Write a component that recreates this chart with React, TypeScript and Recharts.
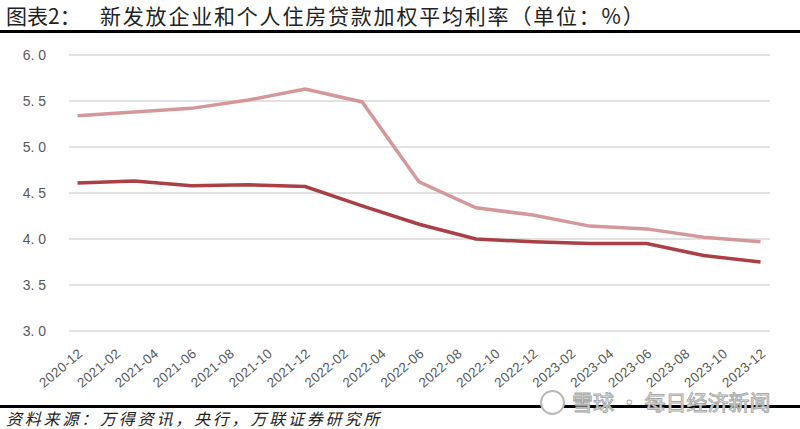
import { LineChart, Line, XAxis, YAxis, CartesianGrid } from "recharts";

// quarterly observations
const quarters = [
  "2020-12", "2021-03", "2021-06", "2021-09", "2021-12", "2022-03", "2022-06",
  "2022-09", "2022-12", "2023-03", "2023-06", "2023-09", "2023-12",
];
const housingRate = [5.34, 5.38, 5.42, 5.51, 5.63, 5.49, 4.62, 4.34, 4.26, 4.14, 4.11, 4.02, 3.97];
const corpRate = [4.61, 4.63, 4.58, 4.59, 4.57, 4.36, 4.16, 4.0, 3.97, 3.95, 3.95, 3.82, 3.75];

const xLabels = [
  "2020-12", "2021-02", "2021-04", "2021-06", "2021-08", "2021-10", "2021-12",
  "2022-02", "2022-04", "2022-06", "2022-08", "2022-10", "2022-12", "2023-02",
  "2023-04", "2023-06", "2023-08", "2023-10", "2023-12",
];
const yTicks = [3.0, 3.5, 4.0, 4.5, 5.0, 5.5, 6.0];

// months since 2020-12
const monthIdx = (s: string) => {
  const [y, m] = s.split("-").map(Number);
  return (y - 2020) * 12 + m - 12;
};

const data = quarters.map((q, i) => ({
  m: monthIdx(q),
  housing: housingRate[i],
  corp: corpRate[i],
}));

const labelByIdx: Record<number, string> = {};
xLabels.forEach((l) => (labelByIdx[monthIdx(l)] = l));

const tickFont = "'Liberation Sans', 'DejaVu Sans', sans-serif";

function XTick({ x, y, payload }: any) {
  return (
    <text
      transform={`translate(${x + 6},${y + 16}) rotate(-40)`}
      textAnchor="end"
      fontSize={13.5}
      letterSpacing={0.3}
      fill="#595959"
      fontFamily={tickFont}
    >
      {labelByIdx[payload.value]}
    </text>
  );
}

function YTick({ x, y, payload }: any) {
  return (
    <text x={x - 15} y={y + 5} textAnchor="end" fontSize={14} fill="#595959" fontFamily={tickFont}>
      {payload.value.toFixed(1).replace(".", ". ")}
    </text>
  );
}

export default function App() {
  return (
    <div
      style={{
        position: "absolute",
        left: 0,
        top: 0,
        width: 800,
        height: 429,
        background: "#fff",
        overflow: "hidden",
        fontFamily: "'Noto Sans CJK SC', sans-serif",
      }}
    >
      <div style={{ position: "absolute", left: 6, top: 0, fontSize: 21, color: "#222", whiteSpace: "nowrap" }}>
        图表2：
      </div>
      <div
        style={{
          position: "absolute",
          left: 100,
          top: 0,
          fontSize: 21,
          letterSpacing: 1.8,
          color: "#222",
          whiteSpace: "nowrap",
        }}
      >
        新发放企业和个人住房贷款加权平均利率（单位：%）
      </div>
      <div style={{ position: "absolute", left: 0, top: 30, width: 800, height: 3, background: "#000" }} />

      <div style={{ position: "absolute", left: 0, top: 0 }}>
        <LineChart width={800} height={429} data={data} margin={{ top: 55, right: 30, left: 19, bottom: 8 }}>
          <CartesianGrid vertical={false} stroke="#d9d9d9" strokeWidth={1.5} />
          <XAxis
            dataKey="m"
            type="number"
            domain={[-0.45, 36.5]}
            ticks={xLabels.map(monthIdx)}
            interval={0}
            axisLine={false}
            tickLine={false}
            height={90}
            tick={<XTick />}
          />
          <YAxis
            type="number"
            domain={[3, 6]}
            ticks={yTicks}
            axisLine={false}
            tickLine={false}
            width={50}
            tick={<YTick />}
          />
          <Line
            type="linear"
            dataKey="housing"
            stroke="#d4989a"
            strokeWidth={3.5}
            dot={false}
            isAnimationActive={false}
          />
          <Line
            type="linear"
            dataKey="corp"
            stroke="#ab3f46"
            strokeWidth={3.5}
            dot={false}
            isAnimationActive={false}
          />
        </LineChart>
      </div>

      <div style={{ position: "absolute", left: 0, top: 405, width: 800, height: 3, background: "#000" }} />
      <div
        style={{
          position: "absolute",
          left: 6,
          top: 408,
          fontSize: 16,
          lineHeight: "20px",
          fontStyle: "italic",
          letterSpacing: 2.8,
          color: "#222",
          whiteSpace: "nowrap",
        }}
      >
        资料来源：万得资讯，央行，万联证券研究所
      </div>

      <div
        style={{
          position: "absolute",
          left: 540,
          top: 390,
          width: 21,
          height: 21,
          borderRadius: "50%",
          border: "2px solid #b8b8b8",
          background: "#fff",
        }}
      />
      <div
        style={{
          position: "absolute",
          left: 572,
          top: 386,
          fontSize: 21,
          lineHeight: "30px",
          color: "#fff",
          WebkitTextStroke: "1px #aaa",
          whiteSpace: "nowrap",
        }}
      >
        雪球 · 每日经济新闻
      </div>
    </div>
  );
}
